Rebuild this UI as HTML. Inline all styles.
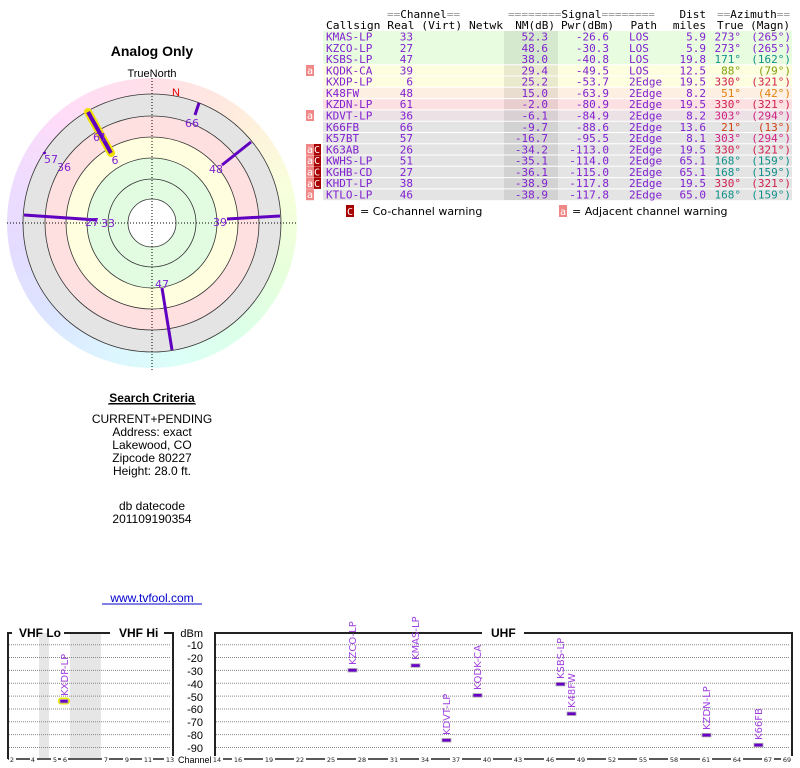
<!DOCTYPE html>
<html><head><meta charset="utf-8"><style>
html,body{margin:0;padding:0;background:#fff;width:800px;height:768px;overflow:hidden;position:relative}
#ring{position:absolute;left:7px;top:78px;width:290px;height:290px;border-radius:50%;
background:conic-gradient(#ffe0e8 0deg,#ffe8e0 30deg,#fff0dc 45deg,#f8ffdc 75deg,#e8ffdc 110deg,#dcffe8 140deg,#dcfff8 170deg,#dcf4ff 200deg,#dce4ff 230deg,#e4dcff 260deg,#f0dcff 290deg,#ffdcf8 320deg,#ffe0e8 360deg)}
svg{position:absolute;left:0;top:0}
</style></head><body>
<div id="ring"></div>
<svg width="800" height="768" viewBox="0 0 800 768" xmlns="http://www.w3.org/2000/svg" font-family="Liberation Sans, sans-serif">
<!-- polar -->
<g>
<circle cx="152" cy="223" r="129" fill="#e4e4e4"/>
<circle cx="152" cy="223" r="107" fill="#ffe0e0"/>
<circle cx="152" cy="223" r="86" fill="#ffffe0"/>
<circle cx="152" cy="223" r="65" fill="#e2fce2"/>
<circle cx="152" cy="223" r="24" fill="#fff"/>
<g fill="none" stroke="#333" stroke-width="0.8">
<circle cx="152" cy="223" r="129"/><circle cx="152" cy="223" r="107"/><circle cx="152" cy="223" r="86"/><circle cx="152" cy="223" r="65"/><circle cx="152" cy="223" r="44"/><circle cx="152" cy="223" r="24"/>
</g>
<line x1="7" y1="223" x2="297" y2="223" stroke="#000" stroke-width="1" stroke-dasharray="1,2"/>
<line x1="152" y1="78" x2="152" y2="370" stroke="#000" stroke-width="1" stroke-dasharray="1,2"/>
<line x1="88" y1="112" x2="111" y2="153" stroke="#f0e000" stroke-width="8" stroke-linecap="round"/>
<g stroke="#6000c0" stroke-width="3" stroke-linecap="butt">
<line x1="195" y1="115" x2="199" y2="103"/>
<line x1="222" y1="165" x2="251" y2="142"/>
<line x1="227" y1="219" x2="280" y2="216"/>
<line x1="162" y1="288" x2="172" y2="350"/>
<line x1="24" y1="215" x2="97" y2="220"/>
<line x1="44" y1="152" x2="45" y2="154"/>
<line x1="88" y1="112" x2="111" y2="153" stroke-width="4"/>
</g>
<g font-family="DejaVu Sans, sans-serif" font-size="11" fill="#8020d0" text-anchor="middle">
<text x="192" y="127">66</text><text x="216" y="173">48</text><text x="220" y="226">39</text><text x="162" y="288">47</text>
<text x="100" y="141">61</text><text x="115" y="164">6</text><text x="51" y="163">57</text><text x="64" y="171">36</text>
<text x="92" y="226">27</text><text x="108" y="227">33</text>
</g>
<text x="176" y="96" font-size="11" fill="#e00000" text-anchor="middle">N</text>
<text x="152" y="77" font-size="11" fill="#000" text-anchor="middle">TrueNorth</text>
<text x="152" y="56" font-size="14" font-weight="bold" fill="#000" text-anchor="middle">Analog Only</text>
</g>
<!-- search criteria -->
<g font-size="12" fill="#000" text-anchor="middle">
<text x="152" y="402" font-weight="bold" text-decoration="underline">Search Criteria</text>
<line x1="108" y1="404" x2="196" y2="404" stroke="#000" stroke-width="1"/>
<text x="152" y="423">CURRENT+PENDING</text>
<text x="152" y="436">Address: exact</text>
<text x="152" y="449">Lakewood, CO</text>
<text x="152" y="462">Zipcode 80227</text>
<text x="152" y="475">Height: 28.0 ft.</text>
<text x="152" y="510">db datecode</text>
<text x="152" y="523">201109190354</text>
<text x="152" y="602" fill="#0000cc">www.tvfool.com</text>
<line x1="102" y1="604" x2="202" y2="604" stroke="#0000cc" stroke-width="1"/>
</g>
<!-- table backgrounds -->
<g>
<rect x="323" y="31" width="469" height="33.8" fill="#e8fde0"/>
<rect x="323" y="64.8" width="469" height="22.5" fill="#fdfde0"/>
<rect x="323" y="87.3" width="469" height="11.3" fill="#fdf0e2"/>
<rect x="323" y="98.6" width="469" height="11.3" fill="#fde0e2"/>
<rect x="323" y="109.9" width="469" height="11.3" fill="#ece2e6"/>
<rect x="323" y="121.2" width="469" height="79" fill="#e4e4e4"/>
<rect x="504" y="31" width="54" height="169" fill="#000" opacity="0.08"/>
<g stroke="#fff" stroke-width="1">
<line x1="323" y1="64.8" x2="792" y2="64.8"/><line x1="323" y1="76" x2="792" y2="76"/><line x1="323" y1="87.3" x2="792" y2="87.3"/><line x1="323" y1="98.6" x2="792" y2="98.6"/><line x1="323" y1="109.9" x2="792" y2="109.9"/><line x1="323" y1="121.2" x2="792" y2="121.2"/><line x1="323" y1="132.5" x2="792" y2="132.5"/><line x1="323" y1="143.8" x2="792" y2="143.8"/><line x1="323" y1="155" x2="792" y2="155"/><line x1="323" y1="166.3" x2="792" y2="166.3"/><line x1="323" y1="177.6" x2="792" y2="177.6"/><line x1="323" y1="188.9" x2="792" y2="188.9"/>
</g>
</g>
<!-- warnings -->
<g font-family="DejaVu Sans Mono, monospace" font-size="10" fill="#fff">
<rect x="306" y="65" width="8" height="11" fill="#f08888"/><text x="307" y="74">a</text>
<rect x="306" y="110" width="8" height="11" fill="#f08888"/><text x="307" y="119">a</text>
<rect x="306" y="144" width="8" height="11" fill="#f08888"/><text x="307" y="153">a</text><rect x="314" y="144" width="7" height="11" fill="#a80000"/><text x="314" y="153">C</text>
<rect x="306" y="155.3" width="8" height="11" fill="#f08888"/><text x="307" y="164">a</text><rect x="314" y="155.3" width="7" height="11" fill="#a80000"/><text x="314" y="164">C</text>
<rect x="306" y="166.6" width="8" height="11" fill="#f08888"/><text x="307" y="175.5">a</text><rect x="314" y="166.6" width="7" height="11" fill="#a80000"/><text x="314" y="175.5">C</text>
<rect x="306" y="177.9" width="8" height="11" fill="#f08888"/><text x="307" y="187">a</text><rect x="314" y="177.9" width="7" height="11" fill="#a80000"/><text x="314" y="187">C</text>
<rect x="306" y="189.2" width="8" height="11" fill="#f08888"/><text x="307" y="198">a</text>
<rect x="346" y="205" width="8" height="12" fill="#a80000"/><text x="347" y="215">C</text>
<rect x="559" y="205" width="8" height="12" fill="#f08888"/><text x="560" y="215">a</text>
</g>
<g font-family="DejaVu Sans, sans-serif" font-size="11" fill="#000">
<text x="360" y="215">= Co-channel warning</text>
<text x="572" y="215">= Adjacent channel warning</text>
</g>
<!-- table text -->
<g font-family="DejaVu Sans Mono, monospace" font-size="11" fill="#000">
<text x="387" y="18" textLength="73" lengthAdjust="spacingAndGlyphs"><tspan fill="#999">==</tspan>Channel<tspan fill="#999">==</tspan></text>
<text x="508" y="18" textLength="147" lengthAdjust="spacingAndGlyphs"><tspan fill="#999">========</tspan>Signal<tspan fill="#999">========</tspan></text>
<text x="706" y="18" text-anchor="end">Dist</text>
<text x="717" y="18" textLength="73" lengthAdjust="spacingAndGlyphs"><tspan fill="#999">==</tspan>Azimuth<tspan fill="#999">==</tspan></text>
<text x="326" y="29" textLength="177" lengthAdjust="spacingAndGlyphs">Callsign Real (Virt) Netwk</text>
<text x="555" y="29" text-anchor="end">NM(dB)</text>
<text x="614" y="29" text-anchor="end">Pwr(dBm)</text>
<text x="657" y="29" text-anchor="end">Path</text>
<text x="706" y="29" text-anchor="end">miles</text>
<text x="717" y="29" textLength="73" lengthAdjust="spacingAndGlyphs">True (Magn)</text>
</g>
<g font-family="DejaVu Sans Mono, monospace" font-size="11" fill="#8020d0">
<g><text x="326" y="40.5">KMAS-LP</text><text x="413" y="40.5" text-anchor="end">33</text><text x="548" y="40.5" text-anchor="end">52.3</text><text x="609" y="40.5" text-anchor="end">-26.6</text><text x="629" y="40.5">LOS</text><text x="706" y="40.5" text-anchor="end">5.9</text><text x="741" y="40.5" text-anchor="end">273°</text><text x="791" y="40.5" text-anchor="end">(265°)</text></g>
<g><text x="326" y="51.8">KZCO-LP</text><text x="413" y="51.8" text-anchor="end">27</text><text x="548" y="51.8" text-anchor="end">48.6</text><text x="609" y="51.8" text-anchor="end">-30.3</text><text x="629" y="51.8">LOS</text><text x="706" y="51.8" text-anchor="end">5.9</text><text x="741" y="51.8" text-anchor="end">273°</text><text x="791" y="51.8" text-anchor="end">(265°)</text></g>
<g><text x="326" y="63">KSBS-LP</text><text x="413" y="63" text-anchor="end">47</text><text x="548" y="63" text-anchor="end">38.0</text><text x="609" y="63" text-anchor="end">-40.8</text><text x="629" y="63">LOS</text><text x="706" y="63" text-anchor="end">19.8</text><text x="741" y="63" text-anchor="end" fill="#10908a">171°</text><text x="791" y="63" text-anchor="end" fill="#10908a">(162°)</text></g>
<g><text x="326" y="74.3">KQDK-CA</text><text x="413" y="74.3" text-anchor="end">39</text><text x="548" y="74.3" text-anchor="end">29.4</text><text x="609" y="74.3" text-anchor="end">-49.5</text><text x="629" y="74.3">LOS</text><text x="706" y="74.3" text-anchor="end">12.5</text><text x="741" y="74.3" text-anchor="end" fill="#80a010">88°</text><text x="791" y="74.3" text-anchor="end" fill="#80a010">(79°)</text></g>
<g><text x="326" y="85.6">KXDP-LP</text><text x="413" y="85.6" text-anchor="end">6</text><text x="548" y="85.6" text-anchor="end">25.2</text><text x="609" y="85.6" text-anchor="end">-53.7</text><text x="629" y="85.6">2Edge</text><text x="706" y="85.6" text-anchor="end">19.5</text><text x="741" y="85.6" text-anchor="end" fill="#d02050">330°</text><text x="791" y="85.6" text-anchor="end" fill="#d02050">(321°)</text></g>
<g><text x="326" y="96.9">K48FW</text><text x="413" y="96.9" text-anchor="end">48</text><text x="548" y="96.9" text-anchor="end">15.0</text><text x="609" y="96.9" text-anchor="end">-63.9</text><text x="629" y="96.9">2Edge</text><text x="706" y="96.9" text-anchor="end">8.2</text><text x="741" y="96.9" text-anchor="end" fill="#e08010">51°</text><text x="791" y="96.9" text-anchor="end" fill="#e08010">(42°)</text></g>
<g><text x="326" y="108.2">KZDN-LP</text><text x="413" y="108.2" text-anchor="end">61</text><text x="548" y="108.2" text-anchor="end">-2.0</text><text x="609" y="108.2" text-anchor="end">-80.9</text><text x="629" y="108.2">2Edge</text><text x="706" y="108.2" text-anchor="end">19.5</text><text x="741" y="108.2" text-anchor="end" fill="#d02050">330°</text><text x="791" y="108.2" text-anchor="end" fill="#d02050">(321°)</text></g>
<g><text x="326" y="119.5">KDVT-LP</text><text x="413" y="119.5" text-anchor="end">36</text><text x="548" y="119.5" text-anchor="end">-6.1</text><text x="609" y="119.5" text-anchor="end">-84.9</text><text x="629" y="119.5">2Edge</text><text x="706" y="119.5" text-anchor="end">8.2</text><text x="741" y="119.5" text-anchor="end" fill="#d02080">303°</text><text x="791" y="119.5" text-anchor="end" fill="#d02080">(294°)</text></g>
<g><text x="326" y="130.8">K66FB</text><text x="413" y="130.8" text-anchor="end">66</text><text x="548" y="130.8" text-anchor="end">-9.7</text><text x="609" y="130.8" text-anchor="end">-88.6</text><text x="629" y="130.8">2Edge</text><text x="706" y="130.8" text-anchor="end">13.6</text><text x="741" y="130.8" text-anchor="end" fill="#d04010">21°</text><text x="791" y="130.8" text-anchor="end" fill="#d04010">(13°)</text></g>
<g><text x="326" y="142">K57BT</text><text x="413" y="142" text-anchor="end">57</text><text x="548" y="142" text-anchor="end">-16.7</text><text x="609" y="142" text-anchor="end">-95.5</text><text x="629" y="142">2Edge</text><text x="706" y="142" text-anchor="end">8.1</text><text x="741" y="142" text-anchor="end" fill="#d02080">303°</text><text x="791" y="142" text-anchor="end" fill="#d02080">(294°)</text></g>
<g><text x="326" y="153.3">K63AB</text><text x="413" y="153.3" text-anchor="end">26</text><text x="548" y="153.3" text-anchor="end">-34.2</text><text x="609" y="153.3" text-anchor="end">-113.0</text><text x="629" y="153.3">2Edge</text><text x="706" y="153.3" text-anchor="end">19.5</text><text x="741" y="153.3" text-anchor="end" fill="#d02050">330°</text><text x="791" y="153.3" text-anchor="end" fill="#d02050">(321°)</text></g>
<g><text x="326" y="164.6">KWHS-LP</text><text x="413" y="164.6" text-anchor="end">51</text><text x="548" y="164.6" text-anchor="end">-35.1</text><text x="609" y="164.6" text-anchor="end">-114.0</text><text x="629" y="164.6">2Edge</text><text x="706" y="164.6" text-anchor="end">65.1</text><text x="741" y="164.6" text-anchor="end" fill="#10908a">168°</text><text x="791" y="164.6" text-anchor="end" fill="#10908a">(159°)</text></g>
<g><text x="326" y="175.9">KGHB-CD</text><text x="413" y="175.9" text-anchor="end">27</text><text x="548" y="175.9" text-anchor="end">-36.1</text><text x="609" y="175.9" text-anchor="end">-115.0</text><text x="629" y="175.9">2Edge</text><text x="706" y="175.9" text-anchor="end">65.1</text><text x="741" y="175.9" text-anchor="end" fill="#10908a">168°</text><text x="791" y="175.9" text-anchor="end" fill="#10908a">(159°)</text></g>
<g><text x="326" y="187.2">KHDT-LP</text><text x="413" y="187.2" text-anchor="end">38</text><text x="548" y="187.2" text-anchor="end">-38.9</text><text x="609" y="187.2" text-anchor="end">-117.8</text><text x="629" y="187.2">2Edge</text><text x="706" y="187.2" text-anchor="end">19.5</text><text x="741" y="187.2" text-anchor="end" fill="#d02050">330°</text><text x="791" y="187.2" text-anchor="end" fill="#d02050">(321°)</text></g>
<g><text x="326" y="198.5">KTLO-LP</text><text x="413" y="198.5" text-anchor="end">46</text><text x="548" y="198.5" text-anchor="end">-38.9</text><text x="609" y="198.5" text-anchor="end">-117.8</text><text x="629" y="198.5">2Edge</text><text x="706" y="198.5" text-anchor="end">65.0</text><text x="741" y="198.5" text-anchor="end" fill="#10908a">168°</text><text x="791" y="198.5" text-anchor="end" fill="#10908a">(159°)</text></g>
</g>
<!-- bottom charts -->
<g>
<rect x="39" y="633" width="10" height="125" fill="#e6e6e6"/>
<rect x="70" y="633" width="31" height="125" fill="#e6e6e6"/>
<g stroke="#888" stroke-width="1" stroke-dasharray="1,1">
<line x1="9" y1="644.7" x2="171" y2="644.7"/><line x1="9" y1="657.5" x2="171" y2="657.5"/><line x1="9" y1="670.4" x2="171" y2="670.4"/><line x1="9" y1="683.2" x2="171" y2="683.2"/><line x1="9" y1="696.1" x2="171" y2="696.1"/><line x1="9" y1="709" x2="171" y2="709"/><line x1="9" y1="721.8" x2="171" y2="721.8"/><line x1="9" y1="734.6" x2="171" y2="734.6"/><line x1="9" y1="747.5" x2="171" y2="747.5"/>
<line x1="216" y1="644.7" x2="790" y2="644.7"/><line x1="216" y1="657.5" x2="790" y2="657.5"/><line x1="216" y1="670.4" x2="790" y2="670.4"/><line x1="216" y1="683.2" x2="790" y2="683.2"/><line x1="216" y1="696.1" x2="790" y2="696.1"/><line x1="216" y1="709" x2="790" y2="709"/><line x1="216" y1="721.8" x2="790" y2="721.8"/><line x1="216" y1="734.6" x2="790" y2="734.6"/><line x1="216" y1="747.5" x2="790" y2="747.5"/>
</g>
<g stroke="#222" stroke-width="2" fill="none">
<polyline points="12,633 8,633 8,759"/><line x1="64" y1="633" x2="110" y2="633"/><polyline points="164,633 173,633 173,759"/>
<polyline points="482,633 215,633 215,759"/><polyline points="524,633 792,633 792,759"/>
</g>
<g stroke="#222" stroke-width="1.5"><line x1="8" y1="759" x2="173" y2="759"/><line x1="215" y1="759" x2="792" y2="759"/></g>
<g font-size="12" font-weight="bold" fill="#000"><text x="19" y="637">VHF Lo</text><text x="119" y="637">VHF Hi</text><text x="491" y="637">UHF</text></g>
<g font-size="11" fill="#000" text-anchor="end"><text x="203" y="637">dBm</text><text x="203" y="649">-10</text><text x="203" y="662">-20</text><text x="203" y="675">-30</text><text x="203" y="688">-40</text><text x="203" y="701">-50</text><text x="203" y="713">-60</text><text x="203" y="726">-70</text><text x="203" y="739">-80</text><text x="203" y="752">-90</text></g>
<text x="178" y="763" font-size="9" fill="#000">Channel</text>
<g font-family="DejaVu Sans, sans-serif" font-size="6.5" fill="#222" text-anchor="middle">
<g fill="#fff" stroke="none"><rect x="9" y="756" width="7" height="7"/><rect x="30" y="756" width="7" height="7"/><rect x="51" y="756" width="7" height="7"/><rect x="61" y="756" width="7" height="7"/><rect x="102" y="756" width="7" height="7"/><rect x="123" y="756" width="7" height="7"/><rect x="142" y="756" width="11" height="7"/><rect x="164" y="756" width="11" height="7"/></g>
<text x="12" y="762">2</text><text x="33" y="762">4</text><text x="55" y="762">5</text><text x="65" y="762">6</text><text x="106" y="762">7</text><text x="127" y="762">9</text><text x="148" y="762">11</text><text x="170" y="762">13</text>
</g>
<g font-family="DejaVu Sans, sans-serif" font-size="6.5" fill="#222" text-anchor="middle">
<g fill="#fff"><rect x="211" y="756" width="12" height="7"/><rect x="232" y="756" width="12" height="7"/><rect x="263" y="756" width="12" height="7"/><rect x="294" y="756" width="12" height="7"/><rect x="325" y="756" width="12" height="7"/><rect x="356" y="756" width="12" height="7"/><rect x="388" y="756" width="12" height="7"/><rect x="419" y="756" width="12" height="7"/><rect x="450" y="756" width="12" height="7"/><rect x="481" y="756" width="12" height="7"/><rect x="512" y="756" width="12" height="7"/><rect x="544" y="756" width="12" height="7"/><rect x="575" y="756" width="12" height="7"/><rect x="606" y="756" width="12" height="7"/><rect x="637" y="756" width="12" height="7"/><rect x="668" y="756" width="12" height="7"/><rect x="700" y="756" width="12" height="7"/><rect x="731" y="756" width="12" height="7"/><rect x="762" y="756" width="12" height="7"/><rect x="781" y="756" width="12" height="7"/></g>
<text x="217" y="762">14</text><text x="238" y="762">16</text><text x="269" y="762">19</text><text x="300" y="762">22</text><text x="331" y="762">25</text><text x="362" y="762">28</text><text x="394" y="762">31</text><text x="425" y="762">34</text><text x="456" y="762">37</text><text x="487" y="762">40</text><text x="518" y="762">43</text><text x="550" y="762">46</text><text x="581" y="762">49</text><text x="612" y="762">52</text><text x="643" y="762">55</text><text x="674" y="762">58</text><text x="706" y="762">61</text><text x="737" y="762">64</text><text x="768" y="762">67</text><text x="787" y="762">69</text>
</g>
<!-- bars -->
<rect x="58" y="697.5" width="12" height="7" rx="3" fill="#f0e800"/>
<g fill="#6a00c8" stroke="#aaa" stroke-width="0.8">
<rect x="60" y="699.5" width="8" height="3.5"/>
<rect x="348" y="668.5" width="9" height="3.5"/>
<rect x="411" y="663.8" width="9" height="3.5"/>
<rect x="442" y="738.5" width="9" height="3.5"/>
<rect x="473" y="693.6" width="9" height="3.5"/>
<rect x="556" y="682.4" width="9" height="3.5"/>
<rect x="567" y="712" width="9" height="3.5"/>
<rect x="702" y="733.4" width="9" height="3.5"/>
<rect x="754" y="743.3" width="9" height="3.5"/>
</g>
<g font-family="DejaVu Sans, sans-serif" font-size="10" fill="#a040e0">
<text transform="translate(68,696) rotate(-90)">KXDP-LP</text>
<text transform="translate(356,665) rotate(-90)">KZCO-LP</text>
<text transform="translate(419,660) rotate(-90)">KMAS-LP</text>
<text transform="translate(450,735) rotate(-90)">KDVT-LP</text>
<text transform="translate(481,690) rotate(-90)">KQDK-CA</text>
<text transform="translate(564,679) rotate(-90)">KSBS-LP</text>
<text transform="translate(575,708) rotate(-90)">K48FW</text>
<text transform="translate(710,730) rotate(-90)">KZDN-LP</text>
<text transform="translate(762,740) rotate(-90)">K66FB</text>
</g>
</g>
</svg>
</body></html>
